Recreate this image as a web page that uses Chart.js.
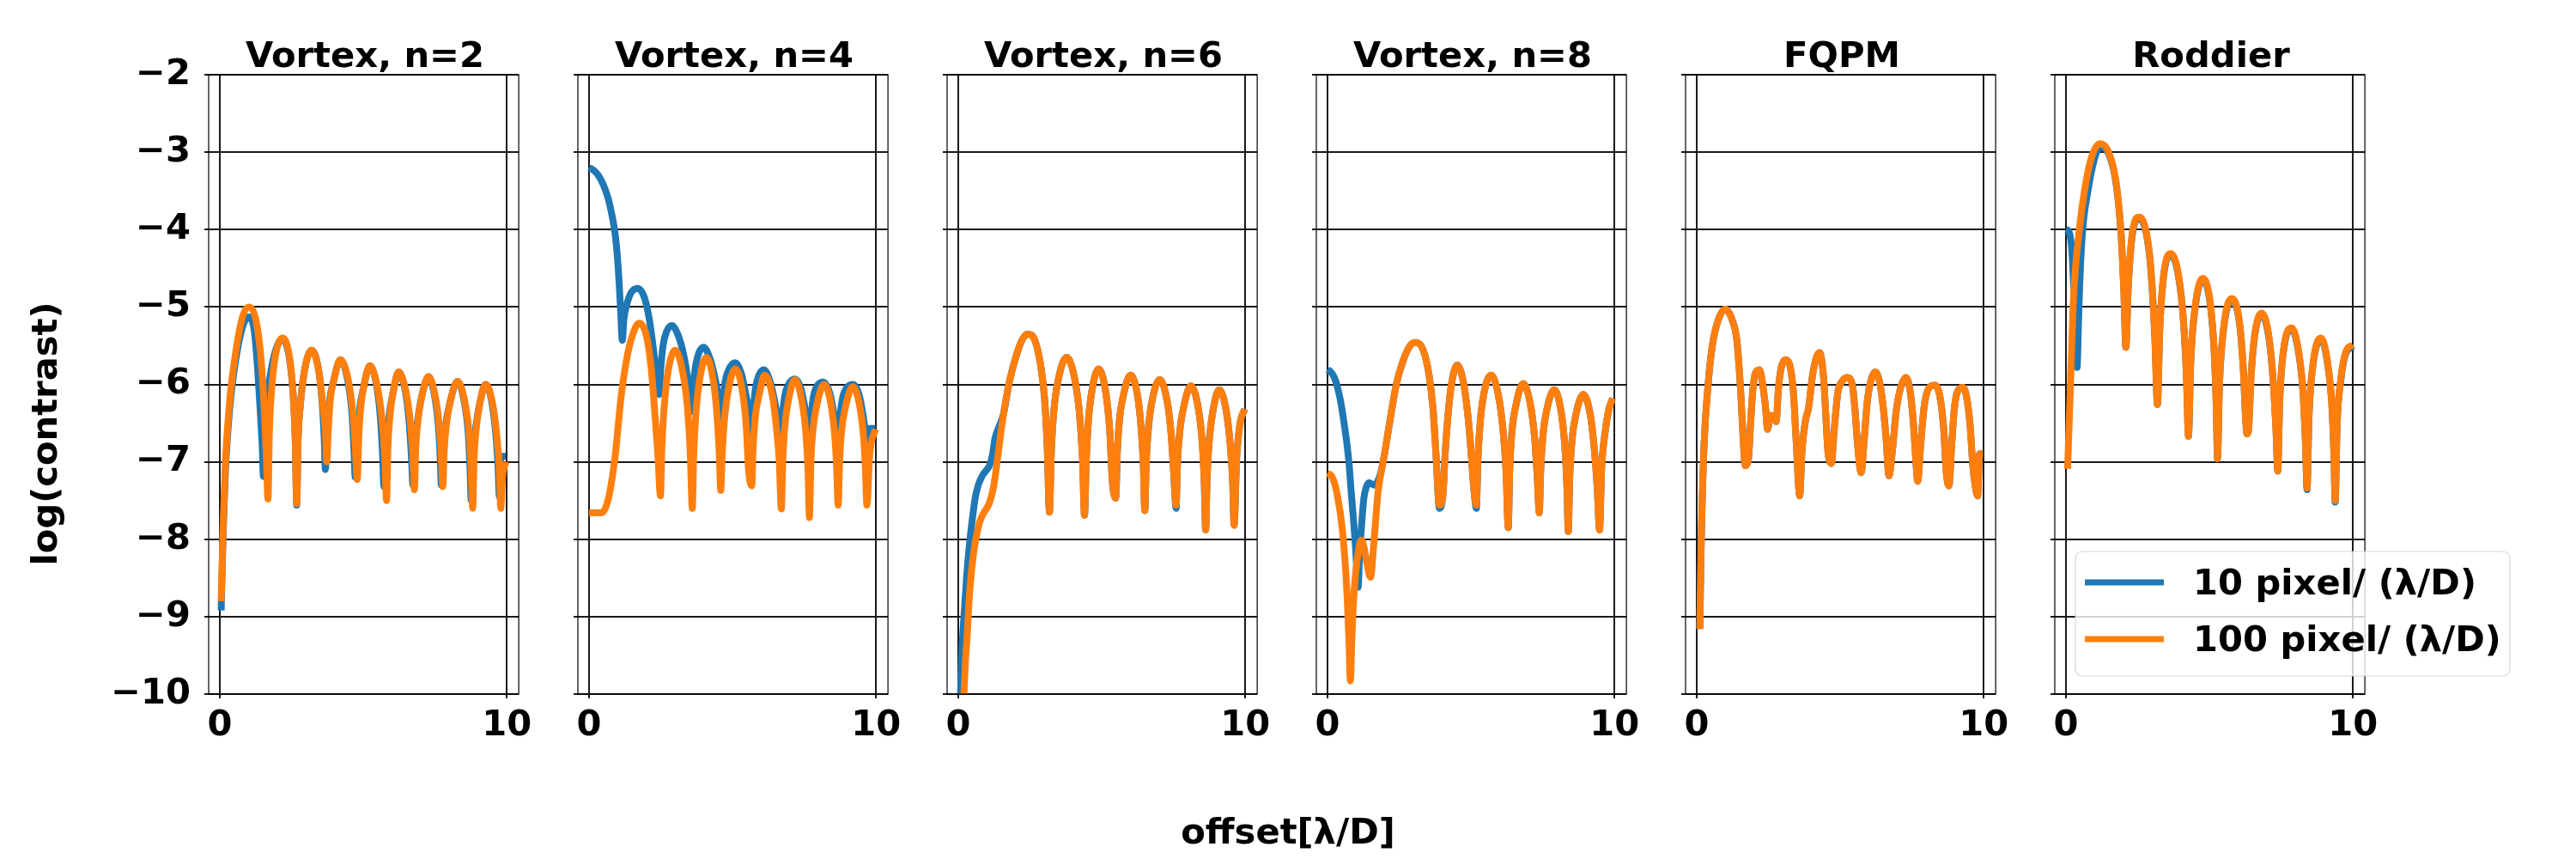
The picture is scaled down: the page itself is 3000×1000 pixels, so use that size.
<!DOCTYPE html>
<html>
<head>
<meta charset="utf-8">
<script src="https://cdn.jsdelivr.net/npm/chart.js@4.4.0/dist/chart.umd.min.js"></script>
<style>
  html, body { margin: 0; padding: 0; background: #fff; }
  #figure { position: relative; width: 3000px; height: 1000px; background: #fff; overflow: hidden; }
  #figure canvas { position: absolute; top: 0; z-index: 1; }
  #labels { position: absolute; left: 0; top: 0; z-index: 2; pointer-events: none; }
  #labels text { font-family: "DejaVu Sans", sans-serif; font-weight: bold; font-size: 41.67px; fill: #000; }
</style>
</head>
<body>
<div id="figure">
  <svg id="labels" width="3000" height="1000" xmlns="http://www.w3.org/2000/svg"></svg>
</div>
<script>
const panelTitles = ["Vortex, n=2", "Vortex, n=4", "Vortex, n=6", "Vortex, n=8", "FQPM", "Roddier"];
const seriesNames = ["10 pixel/ (\u03bb/D)", "100 pixel/ (\u03bb/D)"];
const xTickValues = [0, 10];
const yTickValues = [-10, -9, -8, -7, -6, -5, -4, -3, -2];
const xAxisTitle = "offset[\u03bb/D]";
const yAxisTitle = "log(contrast)";

// [offset, log contrast]; "coarse" = 10 px/(λ/D), "fine" = 100 px/(λ/D)
const vortex2Coarse = [[0.05,-8.92],[0.12,-7.9],[0.2,-7.1],[0.35,-6.3],[0.55,-5.7],[0.8,-5.25],[1.02,-5.13],[1.2,-5.3],[1.32,-5.8],[1.42,-6.4],[1.48,-6.8],[1.52,-7.19],[1.57,-6.7],[1.66,-6.2],[1.85,-5.7],[2.19,-5.42],[2.43,-5.67],[2.56,-6.15],[2.63,-6.7],[2.68,-7.56],[2.73,-6.7],[2.8,-6.3],[2.94,-5.85],[3.2,-5.56],[3.46,-5.85],[3.58,-6.3],[3.64,-6.7],[3.68,-7.1],[3.74,-6.6],[3.83,-6.2],[3.97,-5.95],[4.2,-5.68],[4.46,-5.95],[4.6,-6.35],[4.67,-6.8],[4.72,-7.2],[4.78,-6.7],[4.88,-6.3],[5.02,-6.02],[5.23,-5.76],[5.48,-6.05],[5.6,-6.45],[5.67,-6.9],[5.72,-7.32],[5.79,-6.8],[5.9,-6.4],[6.04,-6.1],[6.23,-5.84],[6.48,-6.12],[6.6,-6.5],[6.68,-6.95],[6.73,-7.3],[6.8,-6.8],[6.9,-6.45],[7.04,-6.15],[7.27,-5.9],[7.5,-6.18],[7.62,-6.55],[7.68,-6.95],[7.72,-7.3],[7.79,-6.85],[7.88,-6.5],[8.03,-6.22],[8.28,-5.96],[8.53,-6.25],[8.66,-6.65],[8.72,-7.1],[8.76,-7.5],[8.82,-6.95],[8.92,-6.55],[9.05,-6.26],[9.26,-6.0],[9.5,-6.28],[9.63,-6.7],[9.7,-7.1],[9.74,-7.45],[9.8,-6.93],[9.97,-6.93]];
const vortex2Fine = [[0.05,-8.8],[0.12,-7.8],[0.2,-7.0],[0.35,-6.2],[0.55,-5.6],[0.8,-5.12],[1.02,-5.0],[1.25,-5.15],[1.42,-5.6],[1.55,-6.3],[1.63,-7.0],[1.68,-7.48],[1.73,-6.6],[1.8,-6.1],[1.93,-5.65],[2.19,-5.4],[2.43,-5.65],[2.56,-6.15],[2.63,-6.7],[2.68,-7.54],[2.73,-6.7],[2.8,-6.3],[2.94,-5.85],[3.2,-5.56],[3.46,-5.85],[3.6,-6.3],[3.68,-6.6],[3.73,-7.0],[3.78,-6.6],[3.85,-6.2],[3.97,-5.95],[4.2,-5.68],[4.48,-5.95],[4.63,-6.35],[4.72,-6.8],[4.79,-7.23],[4.84,-6.7],[4.91,-6.3],[5.02,-6.02],[5.23,-5.76],[5.5,-6.05],[5.65,-6.45],[5.75,-6.95],[5.81,-7.5],[5.86,-6.8],[5.93,-6.4],[6.04,-6.1],[6.23,-5.84],[6.5,-6.12],[6.64,-6.5],[6.73,-6.95],[6.78,-7.36],[6.83,-6.8],[6.91,-6.45],[7.04,-6.15],[7.27,-5.9],[7.52,-6.18],[7.65,-6.55],[7.72,-6.95],[7.77,-7.32],[7.82,-6.85],[7.9,-6.5],[8.03,-6.22],[8.28,-5.96],[8.55,-6.25],[8.69,-6.65],[8.76,-7.1],[8.81,-7.6],[8.86,-6.95],[8.94,-6.55],[9.05,-6.26],[9.26,-6.0],[9.52,-6.28],[9.66,-6.7],[9.74,-7.1],[9.79,-7.6],[9.85,-7.2],[9.97,-7.0]];

const vortex4Coarse = [[0.0,-3.2],[0.15,-3.23],[0.33,-3.3],[0.5,-3.42],[0.67,-3.6],[0.82,-3.85],[0.92,-4.08],[1.0,-4.4],[1.06,-4.75],[1.11,-5.1],[1.16,-5.43],[1.22,-5.15],[1.31,-4.98],[1.46,-4.82],[1.7,-4.76],[1.95,-4.9],[2.12,-5.2],[2.28,-5.65],[2.38,-5.95],[2.44,-6.13],[2.5,-5.8],[2.58,-5.5],[2.7,-5.32],[2.89,-5.24],[3.1,-5.36],[3.3,-5.62],[3.45,-5.95],[3.58,-6.35],[3.64,-6.0],[3.72,-5.75],[3.82,-5.6],[3.99,-5.52],[4.2,-5.65],[4.38,-5.9],[4.5,-6.15],[4.61,-6.45],[4.67,-6.2],[4.75,-5.95],[4.88,-5.8],[5.1,-5.72],[5.3,-5.85],[5.45,-6.1],[5.57,-6.35],[5.67,-6.64],[5.72,-6.35],[5.8,-6.05],[5.92,-5.88],[6.09,-5.81],[6.3,-5.95],[6.46,-6.2],[6.58,-6.45],[6.68,-6.74],[6.73,-6.45],[6.82,-6.15],[6.95,-6.0],[7.17,-5.93],[7.38,-6.05],[7.52,-6.3],[7.6,-6.5],[7.67,-6.8],[7.72,-6.5],[7.8,-6.2],[7.93,-6.03],[8.16,-5.97],[8.38,-6.1],[8.52,-6.35],[8.61,-6.55],[8.68,-6.83],[8.73,-6.5],[8.81,-6.22],[8.95,-6.06],[9.19,-6.0],[9.4,-6.12],[9.54,-6.38],[9.62,-6.6],[9.68,-6.9],[9.76,-6.57],[9.98,-6.57]];
const vortex4Fine = [[0.0,-7.66],[0.42,-7.66],[0.57,-7.6],[0.72,-7.4],[0.92,-6.9],[1.11,-6.19],[1.31,-5.68],[1.51,-5.37],[1.75,-5.21],[2.0,-5.37],[2.17,-5.8],[2.3,-6.4],[2.4,-6.9],[2.49,-7.44],[2.54,-6.8],[2.62,-6.3],[2.75,-5.85],[3.0,-5.56],[3.27,-5.85],[3.43,-6.3],[3.53,-6.9],[3.6,-7.6],[3.65,-6.9],[3.72,-6.4],[3.85,-5.95],[4.09,-5.65],[4.33,-5.95],[4.46,-6.4],[4.54,-6.9],[4.59,-7.37],[4.64,-6.9],[4.71,-6.5],[4.85,-6.08],[5.1,-5.8],[5.35,-6.1],[5.48,-6.55],[5.56,-7.1],[5.67,-7.31],[5.72,-6.8],[5.8,-6.4],[5.92,-6.15],[6.12,-5.88],[6.39,-6.15],[6.54,-6.6],[6.63,-7.0],[6.7,-7.61],[6.75,-7.0],[6.82,-6.55],[6.94,-6.22],[7.17,-5.94],[7.42,-6.22],[7.56,-6.65],[7.63,-7.1],[7.68,-7.72],[7.73,-7.0],[7.8,-6.6],[7.93,-6.28],[8.19,-6.0],[8.44,-6.28],[8.57,-6.7],[8.63,-7.1],[8.68,-7.56],[8.73,-7.0],[8.8,-6.6],[8.93,-6.3],[9.19,-6.03],[9.44,-6.3],[9.57,-6.7],[9.63,-7.1],[9.68,-7.56],[9.78,-6.9],[9.98,-6.58]];

const vortex6Coarse = [[0.08,-10.0],[0.13,-9.45],[0.2,-9.0],[0.3,-8.45],[0.4,-8.04],[0.5,-7.72],[0.59,-7.47],[0.7,-7.3],[0.84,-7.18],[1.0,-7.1],[1.09,-7.05],[1.2,-6.9],[1.28,-6.7],[1.42,-6.55],[1.58,-6.38],[1.78,-5.97],[2.03,-5.62],[2.22,-5.43],[2.42,-5.35],[2.67,-5.43],[2.87,-5.75],[3.01,-6.19],[3.1,-6.8],[3.18,-7.65],[3.24,-6.9],[3.33,-6.35],[3.48,-5.95],[3.78,-5.65],[4.07,-5.95],[4.23,-6.4],[4.33,-6.95],[4.4,-7.69],[4.46,-7.0],[4.53,-6.5],[4.65,-6.1],[4.89,-5.8],[5.14,-6.1],[5.28,-6.6],[5.37,-7.25],[5.49,-7.47],[5.54,-6.9],[5.62,-6.45],[5.75,-6.15],[6.0,-5.88],[6.25,-6.15],[6.38,-6.6],[6.45,-7.05],[6.5,-7.63],[6.55,-7.0],[6.63,-6.55],[6.76,-6.2],[7.02,-5.94],[7.28,-6.22],[7.42,-6.65],[7.5,-7.1],[7.59,-7.6],[7.64,-7.0],[7.72,-6.6],[7.85,-6.3],[8.1,-6.02],[8.36,-6.3],[8.5,-6.75],[8.57,-7.25],[8.62,-7.88],[8.67,-7.2],[8.75,-6.7],[8.87,-6.35],[9.09,-6.07],[9.34,-6.35],[9.48,-6.8],[9.56,-7.25],[9.61,-7.82],[9.7,-6.95],[9.82,-6.5],[9.98,-6.32]];
const vortex6Fine = [[0.2,-10.0],[0.25,-9.6],[0.3,-9.32],[0.4,-8.68],[0.54,-8.17],[0.74,-7.79],[0.89,-7.66],[1.09,-7.53],[1.24,-7.31],[1.38,-6.93],[1.58,-6.38],[1.78,-5.97],[2.03,-5.62],[2.22,-5.43],[2.42,-5.35],[2.67,-5.43],[2.87,-5.75],[3.01,-6.19],[3.1,-6.8],[3.18,-7.65],[3.24,-6.9],[3.33,-6.35],[3.48,-5.95],[3.78,-5.65],[4.07,-5.95],[4.23,-6.4],[4.33,-6.95],[4.4,-7.69],[4.46,-7.0],[4.53,-6.5],[4.65,-6.1],[4.89,-5.8],[5.14,-6.1],[5.28,-6.6],[5.37,-7.25],[5.49,-7.47],[5.54,-6.9],[5.62,-6.45],[5.75,-6.15],[6.0,-5.88],[6.25,-6.15],[6.38,-6.6],[6.45,-7.05],[6.5,-7.63],[6.55,-7.0],[6.63,-6.55],[6.76,-6.2],[7.02,-5.94],[7.28,-6.22],[7.42,-6.65],[7.5,-7.1],[7.59,-7.56],[7.64,-7.0],[7.72,-6.6],[7.85,-6.3],[8.1,-6.02],[8.36,-6.3],[8.5,-6.75],[8.57,-7.25],[8.62,-7.88],[8.67,-7.2],[8.75,-6.7],[8.87,-6.35],[9.09,-6.07],[9.34,-6.35],[9.48,-6.8],[9.56,-7.25],[9.61,-7.82],[9.7,-6.95],[9.82,-6.5],[9.98,-6.32]];

const vortex8Coarse = [[0.0,-5.81],[0.12,-5.84],[0.24,-5.91],[0.36,-6.05],[0.48,-6.26],[0.58,-6.5],[0.68,-6.77],[0.76,-7.05],[0.83,-7.4],[0.91,-7.75],[0.98,-8.11],[1.07,-8.62],[1.12,-8.2],[1.17,-7.92],[1.27,-7.47],[1.35,-7.33],[1.45,-7.27],[1.62,-7.3],[1.71,-7.28],[1.85,-7.15],[1.96,-6.96],[2.16,-6.51],[2.4,-6.0],[2.65,-5.68],[2.9,-5.49],[3.09,-5.46],[3.34,-5.56],[3.54,-5.88],[3.68,-6.32],[3.78,-6.89],[3.9,-7.6],[4.03,-7.4],[4.1,-6.9],[4.2,-6.4],[4.32,-6.0],[4.52,-5.75],[4.75,-6.0],[4.92,-6.5],[5.02,-6.95],[5.1,-7.35],[5.19,-7.6],[5.24,-7.0],[5.32,-6.5],[5.45,-6.12],[5.7,-5.88],[5.96,-6.15],[6.12,-6.6],[6.22,-7.1],[6.3,-7.85],[6.35,-7.1],[6.43,-6.6],[6.56,-6.28],[6.82,-5.99],[7.08,-6.28],[7.22,-6.7],[7.31,-7.2],[7.38,-7.66],[7.43,-7.1],[7.51,-6.65],[7.64,-6.33],[7.9,-6.07],[8.14,-6.35],[8.27,-6.8],[8.34,-7.3],[8.39,-7.9],[8.44,-7.2],[8.52,-6.72],[8.65,-6.4],[8.91,-6.13],[9.16,-6.4],[9.3,-6.85],[9.4,-7.35],[9.48,-7.88],[9.55,-7.1],[9.68,-6.6],[9.82,-6.3],[9.94,-6.18]];
const vortex8Fine = [[0.0,-7.15],[0.14,-7.18],[0.33,-7.4],[0.53,-7.91],[0.68,-8.68],[0.75,-9.3],[0.8,-9.83],[0.85,-9.3],[0.93,-8.68],[1.07,-8.17],[1.19,-8.01],[1.3,-8.15],[1.37,-8.3],[1.5,-8.49],[1.62,-8.04],[1.76,-7.4],[1.96,-6.96],[2.16,-6.51],[2.4,-6.0],[2.65,-5.68],[2.9,-5.49],[3.09,-5.46],[3.34,-5.56],[3.54,-5.88],[3.68,-6.32],[3.78,-6.89],[3.9,-7.56],[4.03,-7.4],[4.1,-6.9],[4.2,-6.4],[4.32,-6.0],[4.52,-5.75],[4.75,-6.0],[4.92,-6.5],[5.02,-6.95],[5.1,-7.35],[5.19,-7.56],[5.24,-7.0],[5.32,-6.5],[5.45,-6.12],[5.7,-5.88],[5.96,-6.15],[6.12,-6.6],[6.22,-7.1],[6.3,-7.85],[6.35,-7.1],[6.43,-6.6],[6.56,-6.28],[6.82,-5.99],[7.08,-6.28],[7.22,-6.7],[7.31,-7.2],[7.38,-7.66],[7.43,-7.1],[7.51,-6.65],[7.64,-6.33],[7.9,-6.07],[8.14,-6.35],[8.27,-6.8],[8.34,-7.3],[8.39,-7.9],[8.44,-7.2],[8.52,-6.72],[8.65,-6.4],[8.91,-6.13],[9.16,-6.4],[9.3,-6.85],[9.4,-7.35],[9.48,-7.88],[9.55,-7.1],[9.68,-6.6],[9.82,-6.3],[9.94,-6.18]];

const fqpmCoarse = [[0.11,-9.16],[0.16,-8.04],[0.26,-6.77],[0.4,-6.0],[0.55,-5.49],[0.75,-5.17],[1.0,-5.03],[1.24,-5.17],[1.4,-5.43],[1.54,-6.13],[1.62,-6.7],[1.69,-7.05],[1.8,-6.98],[1.88,-6.5],[1.95,-6.1],[2.05,-5.85],[2.19,-5.81],[2.3,-6.0],[2.4,-6.3],[2.47,-6.58],[2.57,-6.4],[2.68,-6.42],[2.77,-6.48],[2.85,-6.05],[2.95,-5.78],[3.1,-5.68],[3.25,-5.76],[3.37,-6.1],[3.47,-6.75],[3.59,-7.44],[3.67,-6.85],[3.8,-6.45],[3.9,-6.3],[4.05,-5.85],[4.28,-5.59],[4.42,-5.9],[4.5,-6.4],[4.57,-6.85],[4.69,-7.02],[4.8,-6.55],[4.92,-6.1],[5.05,-5.97],[5.24,-5.91],[5.42,-6.0],[5.52,-6.35],[5.6,-6.75],[5.73,-7.14],[5.84,-6.7],[5.95,-6.2],[6.07,-5.95],[6.22,-5.84],[6.38,-5.98],[6.5,-6.3],[6.6,-6.7],[6.7,-7.18],[6.82,-6.85],[6.95,-6.35],[7.1,-6.05],[7.29,-5.91],[7.45,-6.12],[7.56,-6.55],[7.63,-6.95],[7.7,-7.25],[7.8,-6.8],[7.92,-6.3],[8.1,-6.04],[8.29,-6.01],[8.47,-6.15],[8.6,-6.55],[8.7,-7.15],[8.79,-7.31],[8.88,-6.8],[8.98,-6.3],[9.1,-6.08],[9.28,-6.04],[9.43,-6.22],[9.53,-6.55],[9.62,-7.05],[9.7,-7.3],[9.79,-7.44],[9.85,-6.9],[9.97,-6.9]];
const fqpmFine = [[0.11,-9.16],[0.16,-8.04],[0.26,-6.77],[0.4,-6.0],[0.55,-5.49],[0.75,-5.17],[1.0,-5.03],[1.24,-5.17],[1.4,-5.43],[1.54,-6.13],[1.62,-6.7],[1.69,-7.05],[1.8,-6.98],[1.88,-6.5],[1.95,-6.1],[2.05,-5.85],[2.19,-5.81],[2.3,-6.0],[2.4,-6.3],[2.47,-6.58],[2.57,-6.4],[2.68,-6.42],[2.77,-6.48],[2.85,-6.05],[2.95,-5.78],[3.1,-5.68],[3.25,-5.76],[3.37,-6.1],[3.47,-6.75],[3.59,-7.44],[3.67,-6.85],[3.8,-6.45],[3.9,-6.3],[4.05,-5.85],[4.28,-5.59],[4.42,-5.9],[4.5,-6.4],[4.57,-6.85],[4.69,-7.02],[4.8,-6.55],[4.92,-6.1],[5.05,-5.97],[5.24,-5.91],[5.42,-6.0],[5.52,-6.35],[5.6,-6.75],[5.73,-7.14],[5.84,-6.7],[5.95,-6.2],[6.07,-5.95],[6.22,-5.84],[6.38,-5.98],[6.5,-6.3],[6.6,-6.7],[6.7,-7.18],[6.82,-6.85],[6.95,-6.35],[7.1,-6.05],[7.29,-5.91],[7.45,-6.12],[7.56,-6.55],[7.63,-6.95],[7.7,-7.25],[7.8,-6.8],[7.92,-6.3],[8.1,-6.04],[8.29,-6.01],[8.47,-6.15],[8.6,-6.55],[8.7,-7.15],[8.79,-7.31],[8.88,-6.8],[8.98,-6.3],[9.1,-6.08],[9.28,-6.04],[9.43,-6.22],[9.53,-6.55],[9.62,-7.05],[9.7,-7.3],[9.79,-7.44],[9.85,-6.9],[9.97,-6.9]];

const roddierCoarse = [[0.0,-4.0],[0.11,-4.03],[0.21,-4.28],[0.27,-4.7],[0.31,-4.98],[0.39,-5.78],[0.44,-5.2],[0.48,-4.73],[0.58,-4.03],[0.76,-3.52],[1.01,-3.07],[1.19,-2.94],[1.5,-3.03],[1.75,-3.41],[1.93,-4.1],[2.02,-4.8],[2.09,-5.52],[2.17,-4.77],[2.3,-4.11],[2.55,-3.86],[2.8,-4.05],[2.96,-4.52],[3.1,-5.4],[3.19,-6.26],[3.27,-5.3],[3.4,-4.62],[3.66,-4.33],[3.93,-4.62],[4.1,-5.2],[4.2,-5.9],[4.27,-6.67],[4.35,-5.7],[4.5,-5.02],[4.77,-4.65],[5.03,-4.97],[5.17,-5.6],[5.24,-6.3],[5.28,-6.96],[5.35,-6.0],[5.5,-5.27],[5.78,-4.91],[6.05,-5.22],[6.18,-5.8],[6.27,-6.5],[6.31,-6.64],[6.36,-6.6],[6.45,-5.9],[6.58,-5.37],[6.82,-5.1],[7.08,-5.42],[7.22,-5.95],[7.32,-6.6],[7.38,-7.12],[7.45,-6.2],[7.6,-5.52],[7.87,-5.29],[8.12,-5.62],[8.26,-6.1],[8.35,-6.8],[8.4,-7.36],[8.47,-6.4],[8.62,-5.72],[8.89,-5.42],[9.13,-5.77],[9.27,-6.3],[9.34,-6.95],[9.38,-7.52],[9.45,-6.5],[9.57,-5.97],[9.75,-5.6],[10.0,-5.51]];
const roddierFine = [[0.06,-7.09],[0.15,-6.13],[0.27,-4.86],[0.46,-4.03],[0.64,-3.52],[0.89,-3.07],[1.19,-2.89],[1.5,-3.01],[1.75,-3.39],[1.93,-4.09],[2.02,-4.8],[2.09,-5.52],[2.17,-4.75],[2.3,-4.09],[2.55,-3.84],[2.8,-4.03],[2.96,-4.5],[3.1,-5.4],[3.19,-6.26],[3.27,-5.3],[3.4,-4.6],[3.66,-4.31],[3.93,-4.6],[4.1,-5.2],[4.2,-5.9],[4.27,-6.67],[4.35,-5.7],[4.5,-5.0],[4.77,-4.63],[5.03,-4.95],[5.17,-5.6],[5.24,-6.3],[5.28,-6.96],[5.35,-6.0],[5.5,-5.25],[5.78,-4.89],[6.05,-5.2],[6.18,-5.8],[6.27,-6.5],[6.31,-6.64],[6.36,-6.6],[6.45,-5.9],[6.58,-5.35],[6.82,-5.08],[7.08,-5.4],[7.22,-5.95],[7.32,-6.6],[7.38,-7.12],[7.45,-6.2],[7.6,-5.5],[7.87,-5.27],[8.12,-5.6],[8.26,-6.1],[8.35,-6.8],[8.4,-7.34],[8.47,-6.4],[8.62,-5.7],[8.89,-5.4],[9.13,-5.75],[9.27,-6.3],[9.34,-6.95],[9.38,-7.5],[9.45,-6.5],[9.57,-5.95],[9.75,-5.58],[10.0,-5.49]];

const coarseSeries = [vortex2Coarse, vortex4Coarse, vortex6Coarse, vortex8Coarse, fqpmCoarse, roddierCoarse];
const fineSeries = [vortex2Fine, vortex4Fine, vortex6Fine, vortex8Fine, fqpmFine, roddierFine];

// layout (pixels)
const frameLeft = [243, 673, 1103, 1533, 1963, 2393];
const FRAME_W = 364, FRAME_TOP = 87, AXIS_W = 150, PAD_R = 20, CANVAS_H = 900, X_AXIS_H = 60;
const BLUE = "#1f77b4", ORANGE = "#ff7f0e", GRID = "#1a1a1a";
const FONT = '"DejaVu Sans", sans-serif';

Chart.defaults.font.family = FONT;
Chart.defaults.font.size = 41.67;
Chart.defaults.font.weight = "bold";
Chart.defaults.color = "#000";

const framePlugin = {
  id: "frame",
  afterDatasetsDraw(chart) {
    const { ctx, chartArea: a } = chart;
    ctx.save();
    ctx.strokeStyle = "#000";
    ctx.lineWidth = 1.2;
    ctx.strokeRect(a.left, a.top, a.right - a.left, a.bottom - a.top);
    ctx.restore();
  }
};

const fig = document.getElementById("figure");

function lineSet(label, data, color, order) {
  return {
    label, data, order,
    borderColor: color,
    backgroundColor: color,
    borderWidth: 8,
    pointRadius: 0,
    fill: false,
    cubicInterpolationMode: "monotone",
    borderJoinStyle: "round",
    borderCapStyle: "butt",
    clip: 0
  };
}

panelTitles.forEach((title, i) => {
  const canvas = document.createElement("canvas");
  canvas.width = AXIS_W + FRAME_W + PAD_R;
  canvas.height = CANVAS_H;
  canvas.style.left = (frameLeft[i] - AXIS_W) + "px";
  fig.insertBefore(canvas, fig.firstChild);

  new Chart(canvas.getContext("2d"), {
    type: "line",
    data: {
      datasets: [
        lineSet(seriesNames[0], coarseSeries[i], BLUE, 1),
        lineSet(seriesNames[1], fineSeries[i], ORANGE, 0)
      ]
    },
    options: {
      responsive: false,
      animation: false,
      devicePixelRatio: 1,
      layout: { padding: { left: 0, right: PAD_R, top: FRAME_TOP, bottom: CANVAS_H - 808 - X_AXIS_H } },
      plugins: { legend: { display: false }, tooltip: { enabled: false }, title: { display: false } },
      scales: {
        x: {
          type: "linear",
          min: -0.386,
          max: 10.415,
          afterBuildTicks: s => { s.ticks = xTickValues.map(v => ({ value: v })); },
          afterFit: s => { s.height = X_AXIS_H; },
          border: { display: false },
          grid: { color: GRID, lineWidth: 2, drawTicks: true, tickLength: 5 },
          ticks: { padding: 7, maxRotation: 0, autoSkip: false, color: "#000", callback: v => String(v) }
        },
        y: {
          type: "linear",
          min: -10,
          max: -2,
          afterBuildTicks: s => { s.ticks = yTickValues.map(v => ({ value: v })); },
          afterFit: s => { s.width = AXIS_W; },
          border: { display: false },
          grid: { color: GRID, lineWidth: 2, drawTicks: true, tickLength: 5 },
          ticks: { display: i === 0, padding: 16, color: "#000", callback: v => "\u2212" + Math.abs(v) }
        }
      }
    },
    plugins: [framePlugin]
  });
});

// text overlay: titles, axis labels, legend
const svg = document.getElementById("labels");
const NS = "http://www.w3.org/2000/svg";
function svgEl(tag, attrs, text) {
  const el = document.createElementNS(NS, tag);
  for (const k in attrs) el.setAttribute(k, attrs[k]);
  if (text != null) el.textContent = text;
  svg.appendChild(el);
  return el;
}

panelTitles.forEach((t, i) => {
  svgEl("text", { x: frameLeft[i] + FRAME_W / 2, y: 78, "text-anchor": "middle" }, t);
});
svgEl("text", { x: 1500, y: 982, "text-anchor": "middle" }, xAxisTitle);
svgEl("text", { x: 66, y: 505, "text-anchor": "middle", transform: "rotate(-90 66 505)" }, yAxisTitle);

// legend box (semi-transparent like the original)
svgEl("rect", { x: 2417, y: 642, width: 506, height: 145, rx: 8, ry: 8,
  fill: "#fff", "fill-opacity": 0.8, stroke: "#cccccc", "stroke-opacity": 0.8, "stroke-width": 1.2 });
[BLUE, ORANGE].forEach((c, k) => {
  const cy = 678 + k * 66;
  svgEl("line", { x1: 2428, y1: cy, x2: 2520, y2: cy, stroke: c, "stroke-width": 7 });
  svgEl("text", { x: 2554, y: cy + 14 }, seriesNames[k]);
});
</script>
</body>
</html>
